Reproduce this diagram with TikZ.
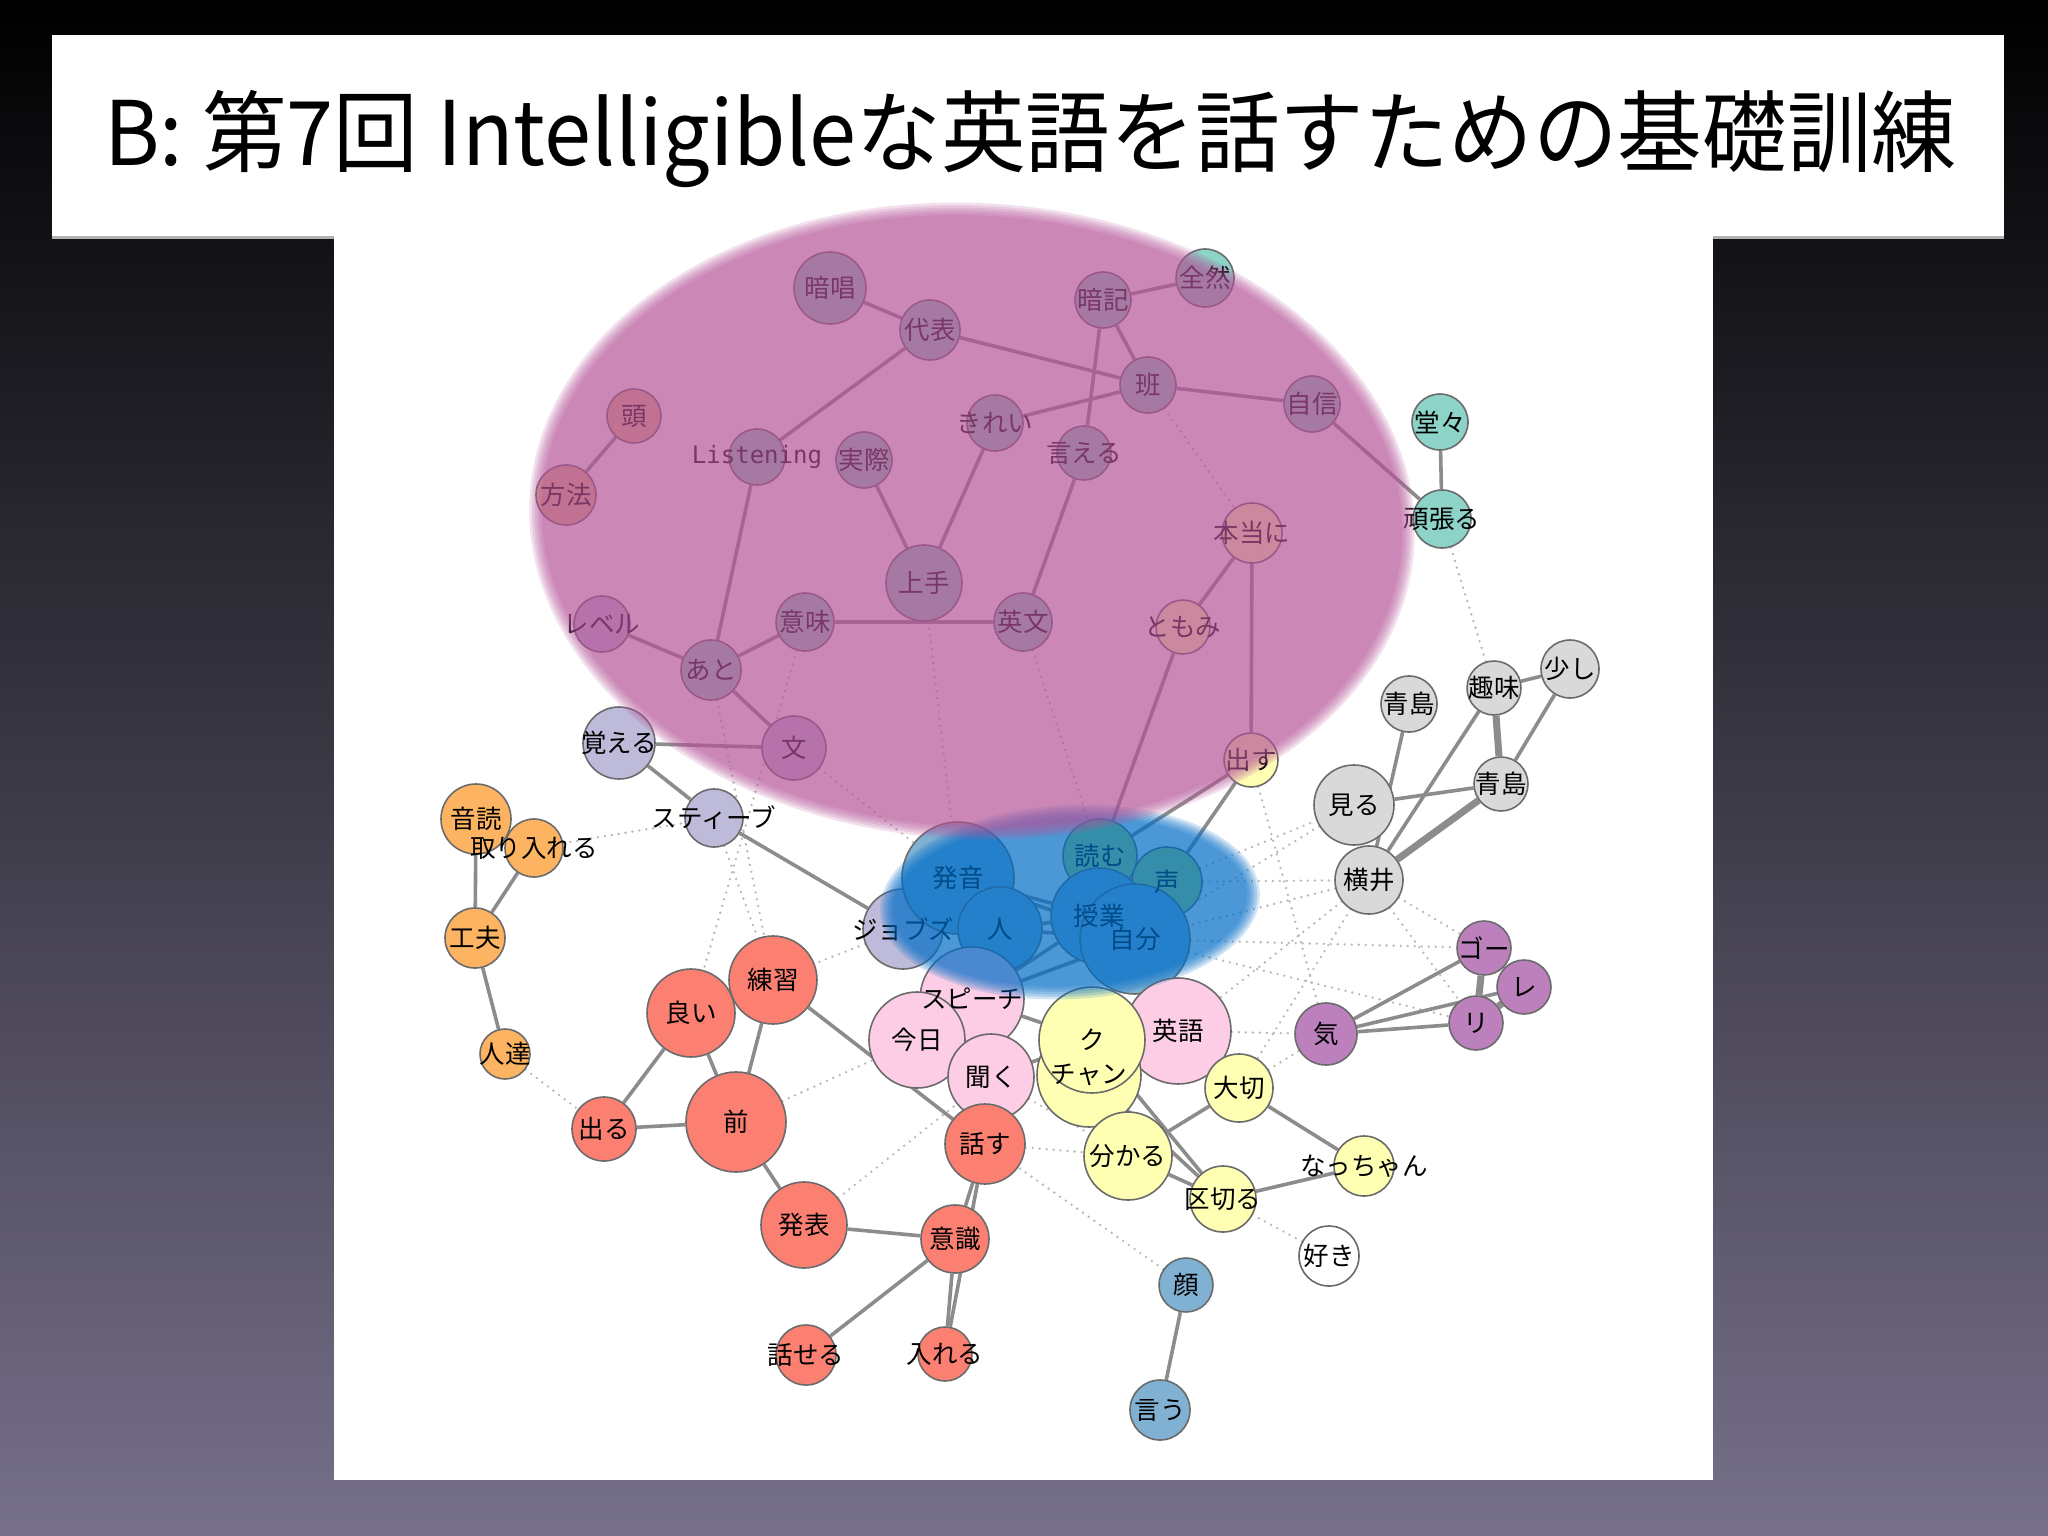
\documentclass[tikz,border=0pt]{standalone}
\usepackage{graphicx}
\usepackage{fontspec}
\setmainfont{Noto Sans CJK JP}
\newfontfamily\monofont{DejaVu Sans Mono}
\usetikzlibrary{positioning}

\definecolor{c_teal}{HTML}{8DD3C7}
\definecolor{c_yellow}{HTML}{FFFFB3}
\definecolor{c_lav}{HTML}{BEBADA}
\definecolor{c_red}{HTML}{FB8072}
\definecolor{c_blue}{HTML}{80B1D3}
\definecolor{c_orange}{HTML}{FDB462}
\definecolor{c_green}{HTML}{B3DE69}
\definecolor{c_pink}{HTML}{FCCDE5}
\definecolor{c_grey}{HTML}{D9D9D9}
\definecolor{c_purple}{HTML}{BC80BD}
\definecolor{c_brown}{RGB}{225,185,140}
\definecolor{bg_mid}{RGB}{30,30,58}
\definecolor{bg_bot}{RGB}{118,112,138}
\definecolor{veil_pink}{RGB}{181,83,152}
\definecolor{veil_blue}{RGB}{0,110,200}

\pgfdeclarelayer{back}
\pgfdeclarelayer{links}
\pgfdeclarelayer{labels}
\pgfdeclarelayer{veil}
\pgfsetlayers{back,links,main,labels,veil}

% word node: name, x, y, radius, colour, text
\newcommand{\wnode}[6]{
	\node[word_node, fill=#5, minimum size=2*#4pt] (w_#1) at (#2,#3) {};
	\begin{pgfonlayer}{labels}
		\node[word_text] (t_#1) at (w_#1) {#6};
	\end{pgfonlayer}
}
\newcommand{\wlinks}[2]{
	\foreach \a/\b in {#2} \draw[#1] (w_\a) -- (w_\b);
}

\begin{document}
\begin{tikzpicture}[x=1pt,y=-1pt]
		\tikzstyle{word_node}=[circle, draw=black!58, line width=1.6pt, inner sep=0pt];
		\tikzstyle{word_text}=[inner sep=0pt, font=\fontsize{25.5}{27}\selectfont];
		\tikzstyle{co_edge}=[draw=black!45, line width=3.6pt];
		\tikzstyle{strong_edge}=[draw=black!45, line width=7pt];
		\tikzstyle{weak_edge}=[draw=black!28, line width=2.6pt, line cap=round, dash pattern=on 0pt off 7pt];

		\useasboundingbox (0,0) rectangle (2048,1536);

		\begin{pgfonlayer}{back}
		\shade[top color=black, middle color=bg_mid, bottom color=bg_bot] (0,0) rectangle (2048,1536);
		\fill[black!30] (52,236) rectangle (2004,239);
		\fill[white] (52,35) rectangle (2004,236);
		\fill[white] (334,236) rectangle (1713,1480);
		\node[anchor=base west, inner sep=0pt, font=\fontsize{89}{100}\selectfont] (title) at (104,166) {\resizebox{1852pt}{\height}{B: 第7回 Intelligibleな英語を話すための基礎訓練}};
		\end{pgfonlayer}

		% upper group
		\wnode{anshou}{830}{288}{36}{c_teal}{暗唱}
		\wnode{daihyou}{930}{330}{30}{c_teal}{代表}
		\wnode{anki}{1103}{300}{28}{c_teal}{暗記}
		\wnode{zenzen}{1205}{278}{29}{c_teal}{全然}
		\wnode{han}{1148}{385}{28}{c_teal}{班}
		\wnode{jishin}{1312}{404}{28}{c_teal}{自信}
		\wnode{atama}{634}{416}{27}{c_brown}{頭}
		\wnode{houhou}{566}{495}{30}{c_brown}{方法}
		\wnode{listening}{757}{457}{28}{c_teal}{\monofont\fontsize{24}{26}\selectfont Listening}
		\wnode{jissai}{864}{460}{28}{c_teal}{実際}
		\wnode{kirei}{995}{423}{28}{c_teal}{きれい}
		\wnode{ieru}{1084}{453}{27}{c_teal}{言える}
		\wnode{hontou}{1252}{533}{30}{c_yellow}{本当に}
		\wnode{jouzu}{924}{583}{38}{c_teal}{上手}
		\wnode{imi}{805}{622}{29}{c_teal}{意味}
		\wnode{eibun}{1023}{622}{29}{c_teal}{英文}
		\wnode{tomomi}{1183}{627}{27}{c_yellow}{ともみ}
		\wnode{level}{602}{624}{28}{c_lav}{レベル}
		\wnode{ato}{711}{670}{30}{c_teal}{あと}
		\wnode{bun}{794}{748}{32}{c_lav}{文}
		\wnode{oboeru}{619}{743}{36}{c_lav}{覚える}
		\wnode{dasu}{1251}{760}{27}{c_yellow}{出す}
		\wnode{doudou}{1440}{422}{28}{c_teal}{堂々}
		\wnode{ganbaru}{1442}{519}{29}{c_teal}{頑張る}

		% right groups
		\wnode{aoshimaA}{1409}{704}{28}{c_grey}{青島}
		\wnode{shumi}{1494}{688}{27}{c_grey}{趣味}
		\wnode{sukoshi}{1570}{669}{29}{c_grey}{少し}
		\wnode{aoshimaB}{1501}{784}{27}{c_grey}{青島}
		\wnode{miru}{1354}{805}{40}{c_grey}{見る}
		\wnode{yokoi}{1369}{880}{34}{c_grey}{横井}
		\wnode{go}{1484}{948}{27}{c_purple}{ゴー}
		\wnode{re}{1524}{987}{27}{c_purple}{レ}
		\wnode{ri}{1476}{1023}{27}{c_purple}{リ}
		\wnode{ki}{1326}{1034}{31}{c_purple}{気}

		% left group
		\wnode{ondoku}{476}{819}{35}{c_orange}{音読}
		\wnode{toriireru}{534}{848}{29}{c_orange}{取り入れる}
		\wnode{kufuu}{475}{938}{30}{c_orange}{工夫}
		\wnode{hitotachi}{505}{1054}{25}{c_orange}{人達}
		\wnode{steve}{714}{818}{29}{c_lav}{スティーブ}
		\wnode{jobs}{903}{929}{40}{c_lav}{ジョブズ}

		% centre group
		\wnode{hatsuon}{958}{878}{56}{c_blue}{発音}
		\wnode{hito}{1000}{929}{42}{c_blue}{人}
		\wnode{yomu}{1100}{856}{37}{c_green}{読む}
		\wnode{koe}{1167}{882}{35}{c_green}{声}
		\wnode{jugyou}{1099}{916}{48}{c_blue}{授業}
		\wnode{jibun}{1135}{939}{55}{c_blue}{自分}

		% lower group
		\wnode{speech}{972}{999}{52}{c_pink}{スピーチ}
		\wnode{kyou}{917}{1040}{48}{c_pink}{今日}
		\wnode{kiku}{991}{1077}{43}{c_pink}{聞く}
		\wnode{eigo}{1178}{1031}{53}{c_pink}{英語}
		\wnode{chan}{1089}{1075}{52}{c_yellow}{チャン}
		\wnode{ku}{1092}{1040}{53}{c_yellow}{ク}
		\wnode{taisetsu}{1239}{1088}{34}{c_yellow}{大切}
		\wnode{wakaru}{1128}{1156}{44}{c_yellow}{分かる}
		\wnode{kugiru}{1223}{1199}{33}{c_yellow}{区切る}
		\wnode{nacchan}{1364}{1166}{30}{c_yellow}{なっちゃん}
		\wnode{suki}{1329}{1256}{30}{white}{好き}
		\wnode{kao}{1186}{1285}{27}{c_blue}{顔}
		\wnode{iu}{1160}{1410}{30}{c_blue}{言う}

		\wnode{renshuu}{773}{980}{44}{c_red}{練習}
		\wnode{yoi}{691}{1013}{44}{c_red}{良い}
		\wnode{mae}{736}{1122}{50}{c_red}{前}
		\wnode{deru}{604}{1129}{32}{c_red}{出る}
		\wnode{hanasu}{985}{1144}{40}{c_red}{話す}
		\wnode{happyou}{804}{1225}{43}{c_red}{発表}
		\wnode{ishiki}{955}{1239}{34}{c_red}{意識}
		\wnode{hanaseru}{806}{1355}{30}{c_red}{話せる}
		\wnode{ireru}{945}{1354}{27}{c_red}{入れる}

		\begin{pgfonlayer}{links}
		\wlinks{weak_edge}{hitotachi/deru, toriireru/steve, steve/renshuu, jobs/renshuu, ato/renshuu, imi/yoi, jouzu/hatsuon, eibun/yomu, han/hontou, ganbaru/shumi, bun/hatsuon, miru/jibun, yokoi/jibun, yokoi/eigo, yokoi/go, yokoi/ri, yokoi/taisetsu, dasu/ki, eigo/ki, taisetsu/ki, koe/yokoi, koe/miru, kao/hanasu, suki/kugiru, hanasu/wakaru, kiku/wakaru, happyou/kiku, mae/kyou, jibun/ri, jibun/go}
		\wlinks{co_edge}{anshou/daihyou, daihyou/han, daihyou/listening, anki/zenzen, anki/han, anki/ieru, han/kirei, han/jishin, jishin/ganbaru, atama/houhou, listening/ato, jissai/jouzu, kirei/jouzu, ieru/eibun, imi/eibun, imi/ato, level/ato, ato/bun, oboeru/bun, hontou/tomomi, hontou/dasu, tomomi/yomu, dasu/yomu, dasu/koe, doudou/ganbaru}
		\wlinks{co_edge}{oboeru/steve, steve/jobs, ondoku/kufuu, toriireru/kufuu, kufuu/hitotachi, hatsuon/jugyou, hatsuon/jibun, hito/jugyou, hito/jibun, speech/jibun, speech/jugyou, jibun/ku, speech/ku, kiku/ku}
		\wlinks{co_edge}{renshuu/hanasu, renshuu/mae, yoi/mae, yoi/deru, deru/mae, mae/happyou, happyou/ishiki, ishiki/hanaseru, ishiki/ireru, hanasu/ishiki, hanasu/ireru, chan/kugiru, ku/kugiru, wakaru/kugiru, wakaru/taisetsu, taisetsu/nacchan, kugiru/nacchan, eigo/taisetsu, kao/iu}
		\wlinks{co_edge}{aoshimaA/yokoi, shumi/sukoshi, sukoshi/aoshimaB, miru/aoshimaB, shumi/yokoi, ki/go, ki/ri, ki/re}
		\wlinks{strong_edge}{shumi/aoshimaB, yokoi/aoshimaB, go/ri, ri/re}
		\end{pgfonlayer}

		% soft-edged community veils
		\begin{pgfonlayer}{veil}
		\foreach \k in {0,...,5}
			\fill[veil_blue, opacity=0.182, rotate around={3:(1070,902)}] (1070,902) ellipse [x radius={190-2.5*\k}, y radius={97-2.5*\k}];
		\foreach \k in {0,...,5}
			\fill[veil_pink, opacity=0.173, rotate around={-3:(972,521)}] (972,521) ellipse [x radius={443-2.5*\k}, y radius={318-2.5*\k}];
		\end{pgfonlayer}
\end{tikzpicture}
\end{document}
